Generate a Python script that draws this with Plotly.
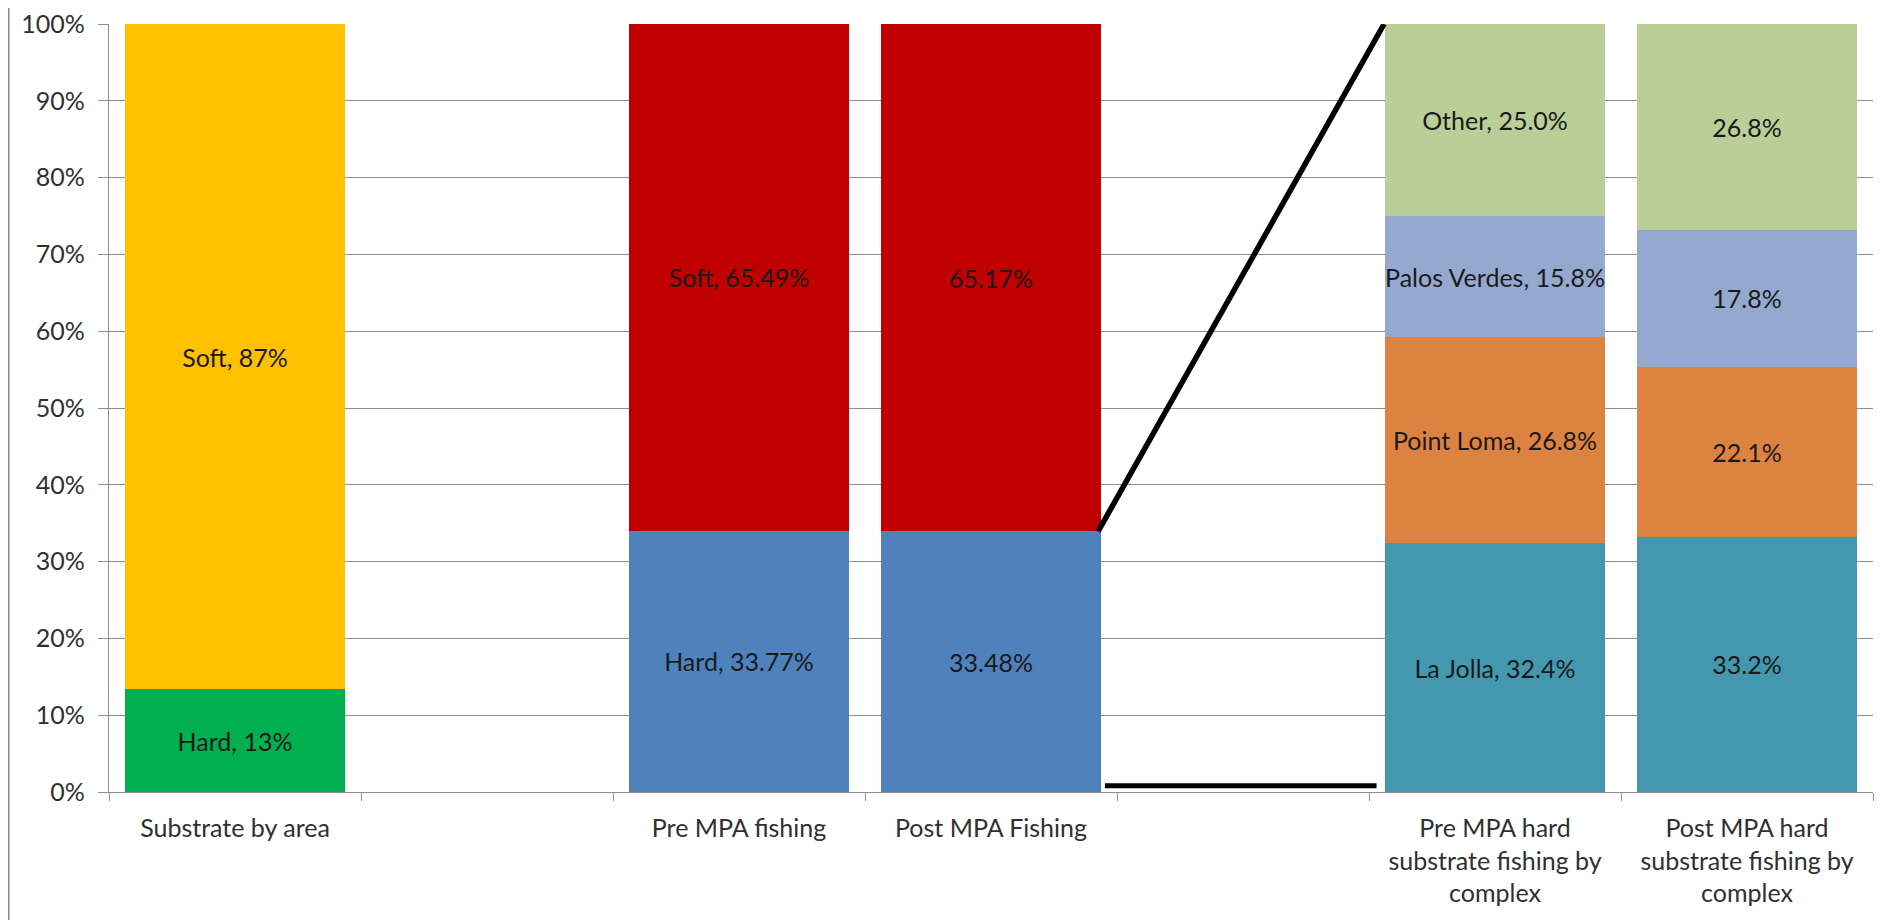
import plotly.graph_objects as go

# ---------------- data ----------------
categories = [
    "Substrate by area",
    " ",
    "Pre MPA fishing",
    "Post MPA Fishing",
    "  ",
    "Pre MPA hard<br>substrate fishing by<br>complex",
    "Post MPA hard<br>substrate fishing by<br>complex",
]

area_cats = ["Substrate by area"]
area_hard = [13.4]
area_soft = [86.6]

fish_cats = ["Pre MPA fishing", "Post MPA Fishing"]
fish_hard = [33.77, 33.48]
fish_soft = [65.49, 65.17]

cx_cats = [categories[5], categories[6]]
la_jolla = [32.4, 33.2]
point_loma = [26.8, 22.1]
palos_verdes = [15.8, 17.8]
other = [25.0, 26.8]

y_ticks = [0, 10, 20, 30, 40, 50, 60, 70, 80, 90, 100]
y_tick_text = [f"{v}%" for v in y_ticks]

# ---------------- styles ----------------
FONT = "Lato"
FS = 25
LABEL_COLOR = "#1a1a1a"
TICK_COLOR = "#303030"
GRID = "#8e8e8e"
BARGAP = 0.13


def labels(name, vals, fmt):
    out = []
    for i, v in enumerate(vals):
        s = format(v, fmt) + "%"
        out.append(f"{name}, {s}" if i == 0 else s)
    return out


series = [
    ("Hard", area_cats, area_hard, "#00B050", ".0f"),
    ("Soft", area_cats, area_soft, "#FFC000", ".0f"),
    ("Hard", fish_cats, fish_hard, "#4F81BD", ".2f"),
    ("Soft", fish_cats, fish_soft, "#C00000", ".2f"),
    ("La Jolla", cx_cats, la_jolla, "#4398B0", ".1f"),
    ("Point Loma", cx_cats, point_loma, "#DD8240", ".1f"),
    ("Palos Verdes", cx_cats, palos_verdes, "#95A9D0", ".1f"),
    ("Other", cx_cats, other, "#BACE98", ".1f"),
]

fig = go.Figure()
for name, xs, ys, color, fmt in series:
    fig.add_trace(go.Bar(
        x=xs, y=ys, name=name,
        marker=dict(color=color, line=dict(width=0)),
        text=labels(name, ys, fmt),
        texttemplate="%{text}",
        textposition="inside",
        insidetextanchor="middle",
        constraintext="none",
        textfont=dict(family=FONT, size=FS, color=LABEL_COLOR),
        hoverinfo="skip",
    ))

# connector lines from the post-MPA hard segment to the complex breakdown
half = (1 - BARGAP) / 2
post_idx = categories.index("Post MPA Fishing")
cx_idx = categories.index(cx_cats[0])
post_hard_pct = fish_hard[1] / (fish_hard[1] + fish_soft[1]) * 100

fig.add_shape(type="line", xref="x", yref="y",
              x0=post_idx + half - 0.01, y0=post_hard_pct,
              x1=cx_idx - half - 0.005, y1=100,
              line=dict(color="black", width=5.5), layer="above")
fig.add_shape(type="line", xref="x", yref="y",
              x0=post_idx + half + 0.017, y0=0.82,
              x1=cx_idx - half - 0.035, y1=0.82,
              line=dict(color="black", width=5), layer="above")

W, H = 1877, 912
ML, MR, MT, MB = 101, 12, 16, 128
plot_w = W - ML - MR

# chart-area border on the left edge
fig.add_shape(type="line", xref="paper", yref="paper",
              x0=(0.5 - ML) / plot_w, x1=(0.5 - ML) / plot_w, y0=-0.3, y1=1.2,
              line=dict(color="#8a8a8a", width=2))

fig.update_layout(
    width=W, height=H,
    barmode="stack", barnorm="percent", bargap=BARGAP,
    showlegend=False,
    plot_bgcolor="white", paper_bgcolor="white",
    margin=dict(l=ML, r=MR, t=MT, b=MB, autoexpand=False),
    font=dict(family=FONT, size=FS, color=TICK_COLOR),
    xaxis=dict(
        type="category", categoryorder="array", categoryarray=categories,
        tickson="boundaries", ticks="outside", ticklen=8,
        tickcolor=GRID, tickwidth=1.3,
        showline=True, linecolor=GRID, linewidth=1.3,
        showgrid=False, tickangle=0, ticklabelstandoff=14,
        ticklabeloverflow="allow",
        tickfont=dict(family=FONT, size=FS, color=TICK_COLOR),
    ),
    yaxis=dict(
        range=[0, 100], tickvals=y_ticks, ticktext=y_tick_text,
        ticks="outside", ticklen=10, tickcolor=GRID, tickwidth=1.3,
        showline=True, linecolor=GRID, linewidth=1.3,
        showgrid=True, gridcolor=GRID, gridwidth=1.3,
        zeroline=False, ticklabelstandoff=8,
        ticklabeloverflow="allow",
        tickfont=dict(family=FONT, size=FS, color=TICK_COLOR),
    ),
)

fig.write_html("out.html")
